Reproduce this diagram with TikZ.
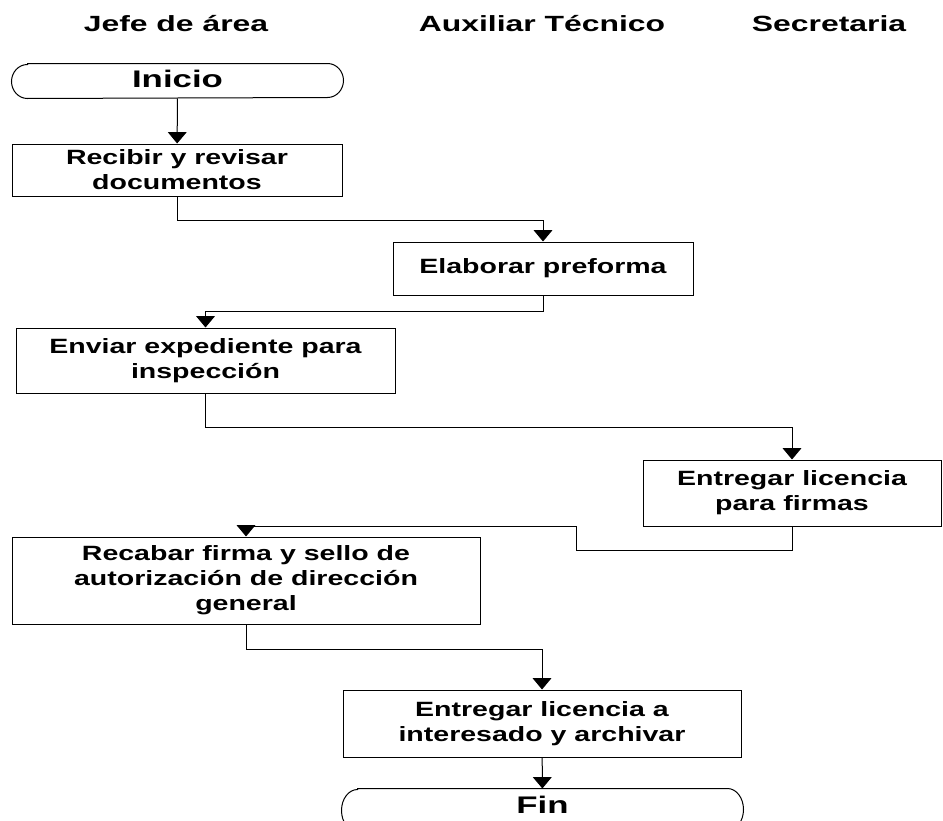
\documentclass[tikz,border=0pt]{standalone}
\usepackage{fontspec}
\usepackage{tikz}
\usetikzlibrary{arrows.meta}
\newfontfamily\boxfont{Liberation Sans}[FakeStretch=1.38]
\newfontfamily\headfont{Liberation Sans}[FakeStretch=1.45]
\newcommand{\termline}[2]{\draw ([xshift=12pt]#1.north west) -- ([xshift=-12pt]#1.north east)
  arc[start angle=90,end angle=-90,x radius=12pt,y radius=#2]
  -- ([xshift=12pt]#1.south west)
  arc[start angle=270,end angle=90,x radius=12pt,y radius=#2] -- cycle;}

\begin{document}
\begin{tikzpicture}[x=0.75pt,y=-0.75pt,line width=0.75pt,
    lane/.style={font=\headfont\fontsize{16.5}{19}\selectfont\bfseries},
    term/.style={minimum width=300.75pt,inner sep=0pt,
      font=\headfont\fontsize{18}{21}\selectfont\bfseries},
    task/.style={draw,inner sep=0pt,align=center,
      font=\boxfont\fontsize{15.5}{18.75}\selectfont\bfseries},
    arr/.style={-{Triangle[width=14pt,length=8.5pt]}}]
    \useasboundingbox (0,0) rectangle (943,821);

    % Lanes
    \node[lane](H1) at (176,24) {Jefe de área};
    \node[lane](H2) at (542,24) {Auxiliar Técnico};
    \node[lane](H3) at (829,24) {Secretaria};

    % Nodes
    \node[term,minimum width=248.25pt,minimum height=25.5pt,text depth=3.75pt](I0) at (177.5,81) {Inicio};
    \node[task,minimum width=247.5pt,minimum height=39pt](N1) at (177,170) {Recibir y revisar\\documentos};
    \node[task,minimum width=225pt,minimum height=39.75pt](N2) at (543,268.5) {Elaborar preforma};
    \node[task,minimum width=284.25pt,minimum height=48.75pt](N3) at (205.5,360.5) {Enviar expediente para\\inspección};
    \node[task,minimum width=223.5pt,minimum height=49.5pt](N4) at (792,493) {Entregar licencia\\para firmas};
    \node[task,minimum width=351pt,minimum height=65.25pt](N5) at (246,580.5) {Recabar firma y sello de\\autorización de dirección\\general};
    \node[task,minimum width=298.5pt,minimum height=50.25pt](N6) at (542,723.5) {Entregar licencia a\\interesado y archivar};
    \node[term,minimum height=31.5pt,text depth=8pt](F0) at (542.5,810) {Fin};
    \coordinate(J) at (576,526);

    \termline{I0}{12.75pt}
    \termline{F0}{15.75pt}

    % Arrows
    \draw[arr] (I0) -- (N1);
    \draw[arr] (N1.south) -- ++(0,24) -| (N2.north);
    \draw[arr] (N2.south) -- ++(0,16) -| (N3.north);
    \draw[arr] (N3.south) -- ++(0,34) -| (N4.north);
    \draw[arr] (N4.south) -- ++(0,24) -| (J) -| (N5.north);
    \draw[arr] (N5.south) -- ++(0,25) -| (N6.north);
    \draw[arr] (N6) -- (F0);
\end{tikzpicture}
\end{document}
